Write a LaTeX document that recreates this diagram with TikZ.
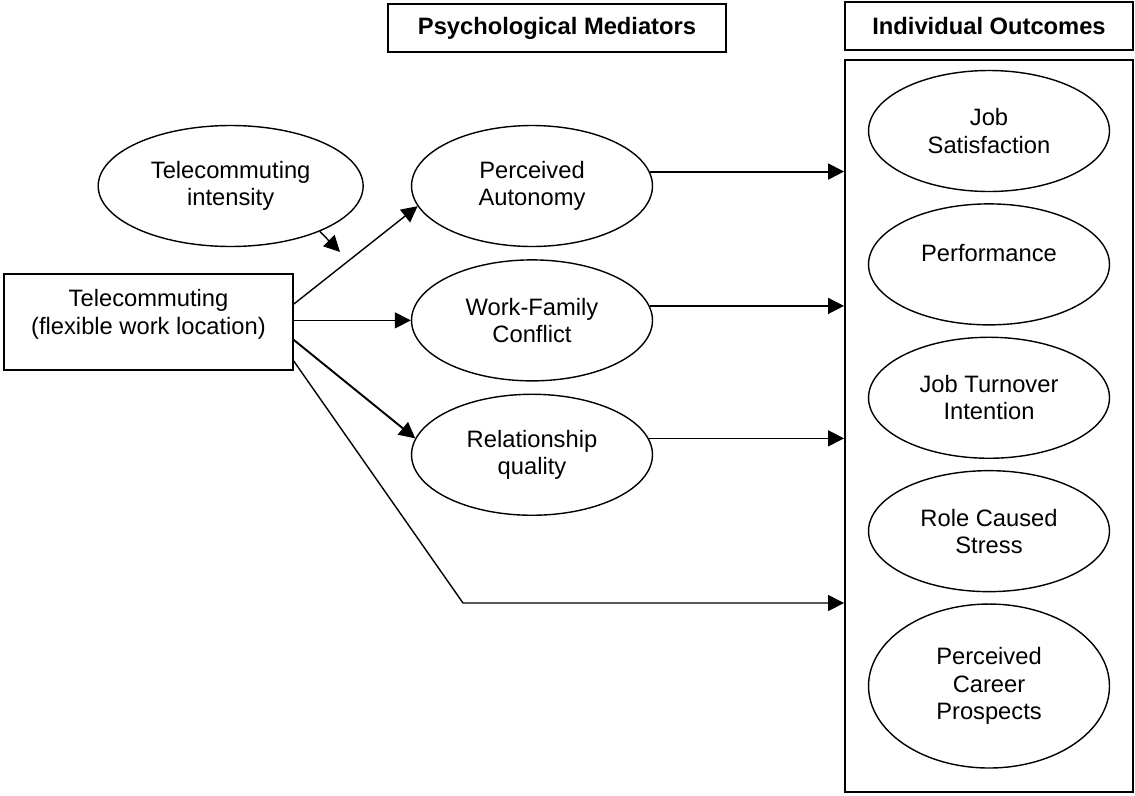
\documentclass[tikz,border=0pt]{standalone}
\usepackage{fontspec}
\setmainfont{Liberation Sans}
\usetikzlibrary{arrows.meta,positioning,shapes.geometric}
\tikzset{
    oval/.style={ellipse, draw, line width=0.8pt, minimum width=4.82cm,
                 minimum height=2.42cm, inner sep=0pt, align=center},
    hdr/.style={rectangle, draw, line width=1.1pt, minimum height=0.96cm,
                align=center, font=\fontsize{13.5}{15.5}\selectfont\bfseries},
    srcbox/.style={rectangle, draw, line width=0.8pt, minimum width=5.78cm,
                   minimum height=1.92cm, align=center},
    arr/.style={-{Triangle[length=0.32cm,width=0.32cm]}, line width=0.8pt},
    arrb/.style={arr, line width=1.1pt},
}

\begin{document}
\begin{tikzpicture}[x=0.02cm, y=-0.02cm, node distance=0.22cm and 0.94cm,
    every node/.style={font=\fontsize{13.5}{15.5}\selectfont}]
    \useasboundingbox (0,0) rectangle (1135,795);

    % column headers
    \node[hdr, minimum width=6.76cm] (hdrmed) at (557,28) {Psychological Mediators};
    \node[rectangle, draw, line width=1.1pt, minimum width=5.76cm,
          minimum height=14.64cm] (outbox) at (989,426) {};
    \node[hdr, minimum width=5.76cm, above=0.16cm of outbox] (hdrout) {Individual Outcomes};

    % predictor and moderator
    \node[srcbox] (tc) at (148.5,322) {Telecommuting\\(flexible work location)\\[-4pt]\mbox{}};
    \node[oval] (autonomy) at (532,186) {Perceived\\Autonomy};
    \node[oval, minimum width=5.3cm, left=of autonomy] (intens) {Telecommuting\\intensity};

    % mediators
    \node[oval, below=0.24cm of autonomy] (wfc)  {Work-Family\\Conflict};
    \node[oval, below=0.24cm of wfc]      (relq) {Relationship\\quality};

    % outcomes
    \node[oval] (jobsat) at (989,131) {Job\\Satisfaction};
    \node[oval, below=of jobsat] (perf)    {Performance\\[-3pt]\mbox{}};
    \node[oval, below=of perf]   (turn)    {Job Turnover\\Intention};
    \node[oval, below=of turn]   (stress)  {Role Caused\\Stress};
    \node[oval, minimum height=3.28cm, below=of stress] (career) {Perceived\\Career\\Prospects};

    \coordinate (modpt) at (340,252);
    \coordinate (bend)  at (463,603);

    \draw[arr]  (intens.-27) -- (modpt);
    \draw[arr]  (tc.7.5) -- (autonomy.190);
    \draw[arr]  (tc.east |- wfc.west) -- (wfc.west);
    \draw[arrb] (tc.-7.1) -- (relq.172);
    \draw[arr]  (tc.-15.8) -- (bend) -- (bend -| outbox.west);

    \draw[arrb] (autonomy.7) -- (autonomy.7 -| outbox.west);
    \draw[arr]  (wfc.7.5) -- (wfc.7.5 -| outbox.west);
    \draw[arr]  (relq.8) -- (relq.8 -| outbox.west);
\end{tikzpicture}
\end{document}
